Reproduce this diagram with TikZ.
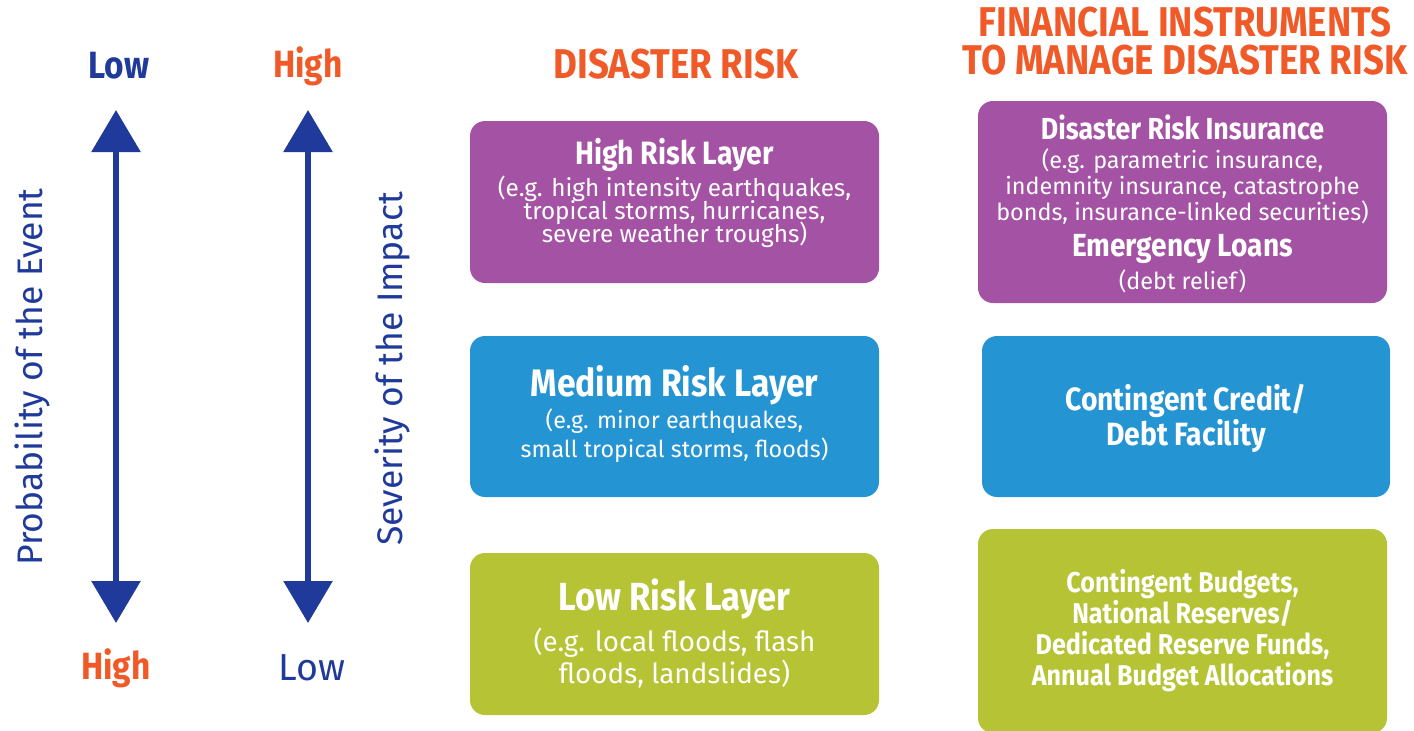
\documentclass[tikz,border=0pt]{standalone}
\usepackage{fontspec}
\setmainfont{Fira Sans}
\newfontfamily\condfont[FakeStretch=0.88]{Fira Sans}
\usetikzlibrary{arrows.meta}

\definecolor{navy}{HTML}{1F3A9A}
\definecolor{orng}{HTML}{F05A28}
\definecolor{purp}{HTML}{A453A4}
\definecolor{sky}{HTML}{2594D3}
\definecolor{lime}{HTML}{B5C334}

\newcommand{\hd}[1]{\condfont\bfseries\fontsize{#1}{#1}\selectfont}
\newcommand{\rows}[2]{\fontsize{#1}{#2}\selectfont\lineskiplimit=-1000pt}

\begin{document}
\begin{tikzpicture}[x=1pt, y=-1pt,
    layer/.style={rounded corners=15pt, minimum width=409pt, inner sep=0pt},
    layertext/.style={text=white, align=center, inner sep=0pt},
    axisarrow/.style={line width=6pt, navy,
        {Triangle[width=48pt,length=42pt]}-{Triangle[width=48pt,length=42pt]}},
    endlabel/.style={font=\condfont\bfseries\fontsize{38}{40}\selectfont},
    heading/.style={text=orng, align=center, font=\condfont\bfseries\rows{41.6}{38}},
    axistitle/.style={rotate=90, text=navy, font=\fontsize{35.5}{40}\selectfont}]
    \useasboundingbox (0,0) rectangle (1414,731);

    \node[endlabel, text=navy] (plow) at (119,66) {Low};
    \node[endlabel, text=orng] (phigh) at (116,668) {High};
    \node[endlabel, text=orng] (shigh) at (308,66) {High};
    \node[text=navy, font=\fontsize{37.6}{40}\selectfont] (slow) at (312,668) {Low};
    \coordinate (ptop) at (116,110);
    \coordinate (pbot) at (116,623);
    \coordinate (stop) at (308,110);
    \coordinate (sbot) at (308,623);
    \draw [axisarrow] (ptop) -- (pbot);
    \draw [axisarrow] (stop) -- (sbot);
    \node[axistitle] (prob) at (32,377) {Probability of the Event};
    \node[axistitle] (sev) at (392,369) {Severity of the Impact};

    \node[heading] (risk) at (676,64) {DISASTER RISK};
    \node[heading] (fin) at (1185,41) {FINANCIAL INSTRUMENTS\\TO MANAGE DISASTER RISK};

    \node[layer, fill=purp, minimum height=162pt] (hrisk) at (674.5,202) {};
    \node[layer, fill=sky, minimum height=161pt] (mrisk) at (674.5,416.5) {};
    \node[layer, fill=lime, minimum height=162pt] (lrisk) at (674.5,634) {};
    \node[layer, fill=purp, minimum height=202pt] (insur) at (1182.5,202) {};
    \node[layer, fill=sky, minimum width=408pt, minimum height=161pt] (credit) at (1186,416.5) {};
    \node[layer, fill=lime, minimum height=204pt] (budget) at (1182.5,631) {};

    \node[layertext, font=\rows{24.3}{23}] (hrisktext) at (674.5,193)
        {\hd{32.3}High Risk Layer\\[9pt](e.g. high intensity earthquakes,\\tropical storms, hurricanes,\\severe weather troughs)};
    \node[layertext, font=\rows{23.3}{29}] (mrisktext) at (674.5,413.5)
        {\hd{38.3}Medium Risk Layer\\[3pt](e.g. minor earthquakes,\\small tropical storms, floods)};
    \node[layertext, font=\rows{27.8}{32}] (lrisktext) at (674.5,633.5)
        {\hd{39.2}Low Risk Layer\\[9pt](e.g. local floods, flash\\floods, landslides)};
    \node[layertext, font=\rows{23.4}{26}] (insurtext) at (1182.5,203.5)
        {\hd{30.4}Disaster Risk Insurance\\[3pt](e.g. parametric insurance,\\indemnity insurance, catastrophe\\bonds, insurance-linked securities)\\[10pt]
         \hd{31.9}Emergency Loans\\[7pt](debt relief)};
    \node[layertext, font=\condfont\bfseries\rows{32.2}{35}] (credittext) at (1186,418)
        {Contingent Credit/\\Debt Facility};
    \node[layertext, font=\condfont\bfseries\rows{28.6}{31}] (budgettext) at (1182.5,631)
        {Contingent Budgets,\\National Reserves/\\Dedicated Reserve Funds,\\Annual Budget Allocations};
\end{tikzpicture}
\end{document}
